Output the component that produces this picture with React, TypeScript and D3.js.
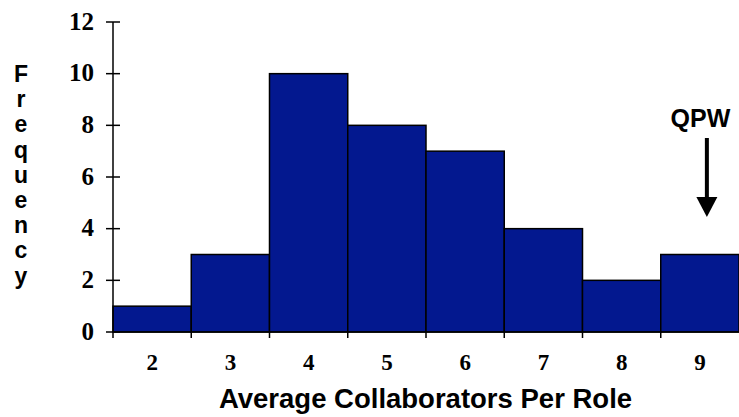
import * as React from 'react';
import * as d3 from 'd3';

const categories = ['2', '3', '4', '5', '6', '7', '8', '9'];
const frequencies = [1, 3, 10, 8, 7, 4, 2, 3];
const yTicks = [0, 2, 4, 6, 8, 10, 12];
const yLetters = ['F', 'r', 'e', 'q', 'u', 'e', 'n', 'c', 'y'];
const xTitle = 'Average Collaborators Per Role';
const markLabel = 'QPW';
const markCategory = '9';

export default function App() {
  const ref = React.useRef<SVGSVGElement>(null);

  React.useEffect(() => {
    const svg = d3.select(ref.current);
    svg.selectAll('*').remove();

    const left = 113, right = 739, top = 22, bottom = 332;
    const x = d3.scaleBand().domain(categories).range([left, right]).padding(0);
    const y = d3.scaleLinear().domain([0, 12]).range([bottom, top]);

    const serif = '"Liberation Serif", "Times New Roman", serif';
    const sans = '"Liberation Sans", Arial, sans-serif';

    const g = svg.append('g');

    // bars
    g.selectAll('rect.bar')
      .data(categories)
      .enter()
      .append('rect')
      .attr('class', 'bar')
      .attr('x', d => x(d)!)
      .attr('y', (d, i) => y(frequencies[i]))
      .attr('width', x.bandwidth())
      .attr('height', (d, i) => y(0) - y(frequencies[i]))
      .attr('fill', '#03188F')
      .attr('stroke', '#000')
      .attr('stroke-width', 1.5);

    // y axis line + ticks
    g.append('line')
      .attr('x1', left).attr('x2', left)
      .attr('y1', y(12)).attr('y2', y(0))
      .attr('stroke', '#000').attr('stroke-width', 1.5);
    g.selectAll('line.yt')
      .data(yTicks)
      .enter()
      .append('line')
      .attr('class', 'yt')
      .attr('x1', left - 7).attr('x2', left + 7)
      .attr('y1', d => y(d)).attr('y2', d => y(d))
      .attr('stroke', '#000').attr('stroke-width', 1.5);
    g.selectAll('text.yl')
      .data(yTicks)
      .enter()
      .append('text')
      .attr('class', 'yl')
      .attr('x', 94)
      .attr('y', d => y(d) + 7.5)
      .attr('text-anchor', 'end')
      .attr('font-family', serif)
      .attr('font-weight', 'bold')
      .attr('font-size', 25)
      .text(d => d);

    // x axis line + ticks at band edges
    g.append('line')
      .attr('x1', left).attr('x2', right)
      .attr('y1', y(0)).attr('y2', y(0))
      .attr('stroke', '#000').attr('stroke-width', 1.5);
    g.selectAll('line.xt')
      .data(categories)
      .enter()
      .append('line')
      .attr('class', 'xt')
      .attr('x1', d => x(d)!).attr('x2', d => x(d)!)
      .attr('y1', y(0)).attr('y2', y(0) + 6)
      .attr('stroke', '#000').attr('stroke-width', 1.5);
    g.selectAll('text.xl')
      .data(categories)
      .enter()
      .append('text')
      .attr('class', 'xl')
      .attr('x', d => x(d)! + x.bandwidth() / 2)
      .attr('y', 370)
      .attr('text-anchor', 'middle')
      .attr('font-family', serif)
      .attr('font-weight', 'bold')
      .attr('font-size', 23)
      .text(d => d);

    // axis titles
    g.append('text')
      .attr('x', 425.5)
      .attr('y', 408)
      .attr('text-anchor', 'middle')
      .attr('font-family', sans)
      .attr('font-weight', 'bold')
      .attr('font-size', 27.5)
      .text(xTitle);
    g.selectAll('text.ylet')
      .data(yLetters)
      .enter()
      .append('text')
      .attr('class', 'ylet')
      .attr('x', 21)
      .attr('y', (d, i) => 82 + i * 25.2)
      .attr('text-anchor', 'middle')
      .attr('font-family', sans)
      .attr('font-weight', 'bold')
      .attr('font-size', 23)
      .text(d => d);

    // QPW annotation
    const cx = x(markCategory)! + x.bandwidth() / 2;
    const ax = cx + 7;
    g.append('text')
      .attr('x', cx + 0.5)
      .attr('y', 127)
      .attr('text-anchor', 'middle')
      .attr('font-family', sans)
      .attr('font-weight', 'bold')
      .attr('font-size', 25)
      .text(markLabel);
    g.append('line')
      .attr('x1', ax).attr('x2', ax)
      .attr('y1', 138).attr('y2', 200)
      .attr('stroke', '#000').attr('stroke-width', 4);
    g.append('path')
      .attr('d', `M${ax - 10.5},197 L${ax + 10.5},197 L${ax},217 Z`)
      .attr('fill', '#000');
  }, []);

  return (
    <svg
      ref={ref}
      width={739}
      height={417}
      style={{ position: 'absolute', left: 0, top: 0, background: '#fff' }}
    />
  );
}
